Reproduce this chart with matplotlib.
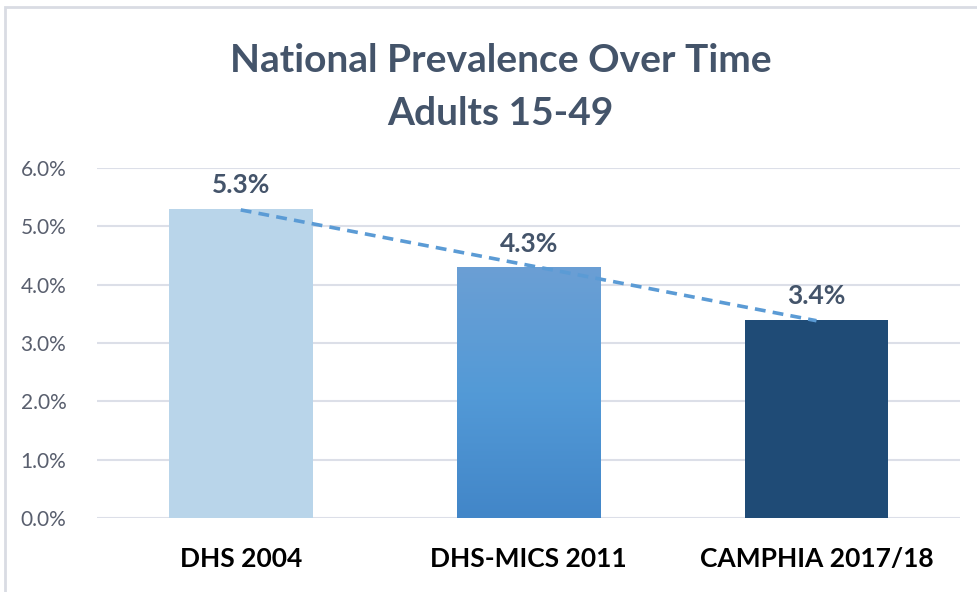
import numpy as np
import matplotlib.pyplot as plt
from matplotlib.patches import Rectangle
from matplotlib.colors import LinearSegmentedColormap
from matplotlib.ticker import FuncFormatter

categories = ["DHS 2004", "DHS-MICS 2011", "CAMPHIA 2017/18"]
prevalence = [5.3, 4.3, 3.4]
labels = ["5.3%", "4.3%", "3.4%"]
bar_colors = ["#B9D5EA", "#5B9BD5", "#1F4B76"]

plt.rcParams['font.family'] = ['Lato', 'DejaVu Sans']

fig = plt.figure(figsize=(9.78, 5.92), dpi=100)
ax = fig.add_axes([0.099, 0.125, 0.883, 0.591])

x = np.arange(len(categories))
bars = ax.bar(x, prevalence, width=0.5, color=bar_colors, zorder=2)

# gradient on the middle bar
b = bars[1]
grad = np.linspace(0, 1, 256).reshape(-1, 1)
cmap = LinearSegmentedColormap.from_list("g", ["#4286C8", "#539AD7", "#6B9FD4"])
im = ax.imshow(grad, cmap=cmap, aspect='auto', origin='lower',
               extent=[b.get_x(), b.get_x() + b.get_width(), 0, b.get_height()],
               zorder=2.5)
im.set_clip_path(b)

# linear trendline
coef = np.polyfit(x, prevalence, 1)
ax.plot(x, np.polyval(coef, x), ls=(0, (3, 2)), color="#5B9BD5", lw=2.6, zorder=3)

for xi, v, t in zip(x, prevalence, labels):
    ax.text(xi, v + 0.2, t, ha='center', va='bottom', fontsize=19,
            fontweight='bold', color="#44546A", zorder=4)

ax.set_xlim(-0.5, 2.5)
ax.set_ylim(0, 6)
ax.set_yticks(np.arange(0, 7, 1))
ax.yaxis.set_major_formatter(FuncFormatter(lambda v, p: f"{v:.1f}%"))
ax.grid(axis='y', color="#DCDFE8", lw=1.5, zorder=0)
ax.set_axisbelow(True)
for s in ax.spines.values():
    s.set_visible(False)
ax.tick_params(axis='both', length=0)
ax.tick_params(axis='y', labelsize=15, labelcolor="#595F6E", pad=22)
ax.set_xticks(x)
ax.set_xticklabels(categories, fontsize=19, fontweight='bold', color="black")
ax.tick_params(axis='x', pad=21)

fig.text(0.512, 0.853, "National Prevalence Over Time\nAdults 15-49", ha='center',
         va='center', fontsize=28, fontweight='bold', color="#44546A",
         linespacing=1.6)

fig.patches.append(Rectangle((0.005, -0.1), 1.2, 1.088, transform=fig.transFigure,
                             fill=False, edgecolor="#D9DCE3", lw=2))

fig.savefig("out.png", dpi=100)
